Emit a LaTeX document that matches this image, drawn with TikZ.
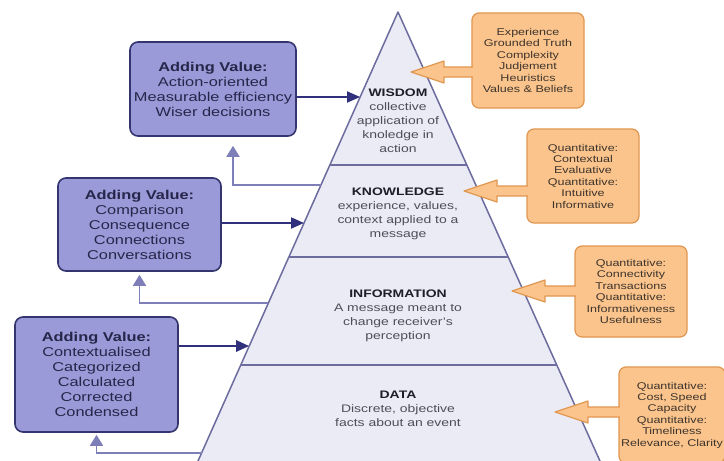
\documentclass[tikz,border=0pt]{standalone}
\usepackage{fontspec}
\setmainfont{Liberation Sans}[FakeStretch=1.28]
\usetikzlibrary{arrows.meta,calc}

\definecolor{boxlilac}{HTML}{9A9AD8}
\definecolor{boxnavy}{HTML}{34346F}
\definecolor{boxink}{HTML}{26264A}
\definecolor{feedlilac}{HTML}{7E7EB8}
\definecolor{pushnavy}{HTML}{30307C}
\definecolor{peach}{HTML}{FAC48C}
\definecolor{peachline}{HTML}{E0964F}
\definecolor{inkpeach}{HTML}{3E342C}
\definecolor{pyrfill}{HTML}{EBEBF6}
\definecolor{pyrline}{HTML}{6C6C9E}
\definecolor{inktitle}{HTML}{1E1E2A}
\definecolor{inkbody}{HTML}{4E4E58}

\tikzset{
  valuebox/.style={draw=boxnavy, fill=boxlilac, line width=1.6pt, rounded corners=8pt,
    align=center, inner sep=2pt, text=boxink, font=\fontsize{12.8}{15}\selectfont},
  metricbox/.style={draw=peachline, fill=peach, line width=1.2pt, rounded corners=7pt,
    align=center, inner sep=2pt, text=inkpeach, font=\fontsize{9.8}{11.4}\selectfont},
  layertext/.style={align=center, text=inkbody, font=\fontsize{10.9}{14}\selectfont},
  fatarrow/.style={draw=peachline, fill=peach, line width=1.2pt, line join=round,
    to path={let \p1=(\tikztostart), \p2=(\tikztotarget) in
      (\x1+1.5pt,\y1+5pt) -- (\x2+33pt,\y1+5pt) -- (\x2+33pt,\y1+11pt) -- (\x2,\y2)
      -- (\x2+33pt,\y1-11pt) -- (\x2+33pt,\y1-5pt) -- (\x1+1.5pt,\y1-5pt)}},
  elbow/.style={to path={-| (\tikztotarget)}}
}

\begin{document}
\begin{tikzpicture}[x=1pt,y=-1pt]

        \useasboundingbox (0,0) rectangle (724,461);
        \clip (0,0) rectangle (724,461);
        \fill[white] (0,0) rectangle (724,461);

        \begin{scope}
          \coordinate (apex)  at (398,12);
          \coordinate (baseL) at (194,470);
          \coordinate (baseR) at (604,470);
          \coordinate (wkL)   at (329.8,165);
          \coordinate (wkR)   at (466.8,165);
          \coordinate (kiL)   at (288.9,257);
          \coordinate (kiR)   at (508.2,257);
          \coordinate (idL)   at (240.8,365);
          \coordinate (idR)   at (556.8,365);
          \coordinate (wIn)   at (360.1,97);
          \coordinate (kIn)   at (304.0,223);
          \coordinate (iIn)   at (249.2,346);
          \coordinate (kOut)  at (320.9,185);
          \coordinate (iOut)  at (268.4,303);
          \coordinate (dOut)  at (201.6,453);
          \coordinate (wTip)  at (411,72);
          \coordinate (kTip)  at (464,191);
          \coordinate (iTip)  at (512,291);
          \coordinate (dTip)  at (555,412);
        \end{scope}

        \draw[fill=pyrfill, draw=pyrline, line width=1.5pt, line join=round]
          (apex) -- (baseR) -- (baseL) -- cycle;
        \begin{scope}[draw=pyrline, line width=1.5pt]
          \draw (wkL) -- (wkR);
          \draw (kiL) -- (kiR);
          \draw (idL) -- (idR);
        \end{scope}

        \begin{scope}[every node/.style={layertext}]
          \node (wisdom)      at (398,121)   {\textbf{\color{inktitle}WISDOM}\\collective\\application of\\knoledge in\\action};
          \node (knowledge)   at (398,214)   {\textbf{\color{inktitle}KNOWLEDGE}\\experience, values,\\context applied to a\\message};
          \node (information) at (398,316)   {\textbf{\color{inktitle}INFORMATION}\\A message meant to\\change receiver's\\perception};
          \node (data)        at (398,409)   {\textbf{\color{inktitle}DATA}\\Discrete, objective\\facts about an event};
        \end{scope}

        \begin{scope}[every node/.style={valuebox}]
          \node[minimum width=166, minimum height=94]  (wvalue) at (213,89)
            {\textbf{Adding Value:}\\Action-oriented\\Measurable efficiency\\Wiser decisions};
          \node[minimum width=163, minimum height=93]  (kvalue) at (139.5,224.5)
            {\textbf{Adding Value:}\\Comparison\\Consequence\\Connections\\Conversations};
          \node[minimum width=163, minimum height=115] (ivalue) at (96.5,374.5)
            {\textbf{Adding Value:}\\Contextualised\\Categorized\\Calculated\\Corrected\\Condensed};
        \end{scope}

        \begin{scope}[every node/.style={metricbox}]
          \node[minimum width=112, minimum height=95] (wmetric) at (528,60.5)
            {Experience\\Grounded Truth\\Complexity\\Judjement\\Heuristics\\Values \& Beliefs};
          \node[minimum width=112, minimum height=94] (kmetric) at (583,176)
            {Quantitative:\\Contextual\\Evaluative\\Quantitative:\\Intuitive\\Informative};
          \node[minimum width=112, minimum height=91] (imetric) at (631,291.5)
            {Quantitative:\\Connectivity\\Transactions\\Quantitative:\\Informativeness\\Usefulness};
          \node[minimum width=106, minimum height=96] (dmetric) at (672,415)
            {Quantitative:\\Cost, Speed\\Capacity\\Quantitative:\\Timeliness\\Relevance, Clarity};
        \end{scope}

        \begin{scope}[every edge/.style={draw=pushnavy, -{Triangle[length=13pt,width=11pt]}}]
          \path (wIn -| wvalue.east) edge[line width=1.8pt] (wIn);
          \path (kIn -| kvalue.east) edge[line width=2pt]   (kIn);
          \path (iIn -| ivalue.east) edge[line width=2.6pt] (iIn);
        \end{scope}

        \begin{scope}[every edge/.style={draw=feedlilac, line width=1.8pt, elbow,
            -{Triangle[length=11pt,width=13pt]}}]
          \path (kOut) edge[shorten >=9pt] ([xshift=20pt]wvalue.south);
          \path (iOut) edge[shorten >=3pt] (kvalue.south);
          \path (dOut) edge[shorten >=2pt] (ivalue.south);
        \end{scope}

        \draw[fatarrow] (wTip -| wmetric.west) to (wTip);
        \draw[fatarrow] (kTip -| kmetric.west) to (kTip);
        \draw[fatarrow] (iTip -| imetric.west) to (iTip);
        \draw[fatarrow] (dTip -| dmetric.west) to (dTip);

      \end{tikzpicture}
\end{document}
